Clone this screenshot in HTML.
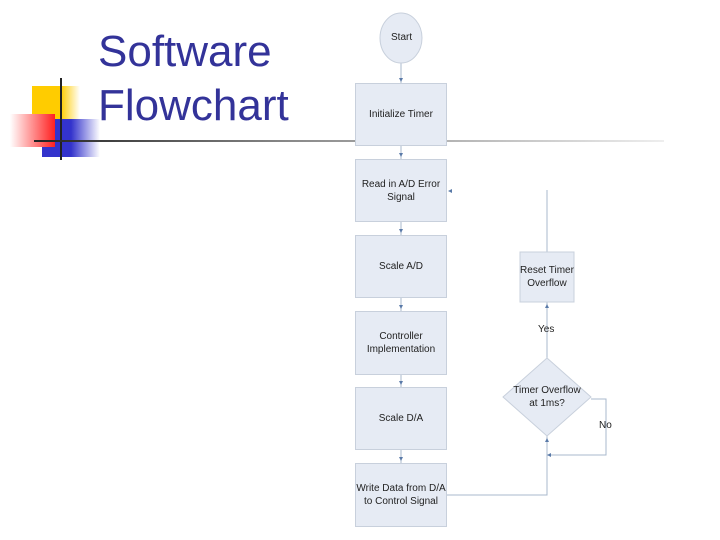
<!DOCTYPE html>
<html><head><style>
body{margin:0;width:720px;height:540px;background:#fff;position:relative;overflow:hidden;font-family:"Liberation Sans",sans-serif}
.a{position:absolute}
.t{color:#333399;font-size:44px;left:98px;line-height:52px}
.b{position:absolute;left:355px;width:92px;background:#e6ebf4;border:1px solid #c8d0dc;box-sizing:border-box;display:flex;align-items:center;justify-content:center;text-align:center;font-size:10px;color:#222;line-height:13px}
.l{position:absolute;font-size:10px;color:#222}
</style></head><body>
<div class="a" style="left:32px;top:86px;width:48px;height:47px;background:linear-gradient(90deg,#ffcc00 60%,#fff)"></div>
<div class="a" style="left:42px;top:119px;width:58px;height:38px;background:linear-gradient(90deg,#3333cc 50%,#fff)"></div>
<div class="a" style="left:10px;top:114px;width:45px;height:33px;background:linear-gradient(90deg,#fff,#ff2020)"></div>
<div class="a" style="left:60px;top:78px;width:2px;height:82px;background:#222"></div>
<div class="a" style="left:34px;top:140px;width:630px;height:2px;background:linear-gradient(90deg,#222,#888 40%,#eee)"></div>
<div class="a t" style="top:26px">Software</div>
<div class="a t" style="top:80px">Flowchart</div>
<svg class="a" style="left:0;top:0" width="720" height="540">
<g stroke="#a9b8cc" stroke-width="1" fill="none">
<line x1="401" y1="63" x2="401" y2="83"/>
<line x1="401" y1="146" x2="401" y2="159"/>
<line x1="401" y1="222" x2="401" y2="235"/>
<line x1="401" y1="298" x2="401" y2="311"/>
<line x1="401" y1="375" x2="401" y2="387"/>
<line x1="401" y1="450" x2="401" y2="463"/>
<polyline points="447,495 547,495 547,436"/>
<polyline points="591,399 606,399 606,455 547,455"/>
<line x1="547" y1="358" x2="547" y2="302"/>
<line x1="547" y1="252" x2="547" y2="190"/>
</g>
<ellipse cx="401" cy="38" rx="21" ry="25" fill="#e6ebf4" stroke="#c8d0dc"/>
<polygon points="547,358 591,397 547,436 503,397" fill="#e6ebf4" stroke="#c8d0dc"/>
<rect x="520" y="252" width="54" height="50" fill="#e6ebf4" stroke="#c8d0dc"/>
<g fill="#5a7aa8">
<polygon points="399,78 403,78 401,82"/><polygon points="399,153 403,153 401,157"/>
<polygon points="399,229 403,229 401,233"/><polygon points="399,305 403,305 401,309"/>
<polygon points="399,381 403,381 401,385"/><polygon points="399,457 403,457 401,461"/>
<polygon points="545,442 549,442 547,438"/><polygon points="545,308 549,308 547,304"/>
<polygon points="551,453 551,457 547,455"/><polygon points="452,189 452,193 448,191"/>
</g>
</svg>
<div class="l" style="left:391px;top:32px">Start</div>
<div class="b" style="top:83px;height:63px">Initialize Timer</div>
<div class="b" style="top:159px;height:63px">Read in A/D Error<br>Signal</div>
<div class="b" style="top:235px;height:63px">Scale A/D</div>
<div class="b" style="top:311px;height:64px">Controller<br>Implementation</div>
<div class="b" style="top:387px;height:63px">Scale D/A</div>
<div class="b" style="top:463px;height:64px">Write Data from D/A<br>to Control Signal</div>
<div class="l" style="left:520px;top:264px;width:54px;text-align:center;line-height:13px">Reset Timer<br>Overflow</div>
<div class="l" style="left:503px;top:384px;width:88px;text-align:center;line-height:13px">Timer Overflow<br>at 1ms?</div>
<div class="l" style="left:538px;top:324px">Yes</div>
<div class="l" style="left:599px;top:420px">No</div>
</body></html>
